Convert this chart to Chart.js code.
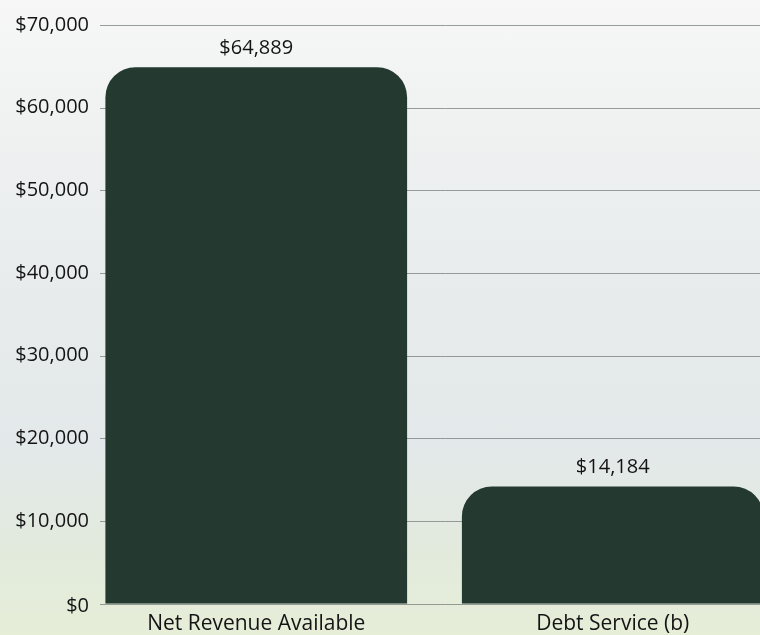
<!DOCTYPE html>
<html>
<head>
<meta charset="utf-8">
<script src="https://cdn.jsdelivr.net/npm/chart.js@4.4.0/dist/chart.umd.min.js"></script>
<style>
  html, body { margin: 0; padding: 0; }
  #wrap {
    width: 760px;
    height: 635px;
    overflow: hidden;
    position: relative;
    background: linear-gradient(to bottom, #f6f7f6 0%, #eff1f1 22%, #e7ebec 48%, #e3e9ea 70%, #e2eadd 87%, #e6eed8 100%);
  }
  #chartBox { width: 791px; height: 635px; }
</style>
</head>
<body>
<div id="wrap">
  <div id="chartBox"><canvas id="revenueChart" width="791" height="635"></canvas></div>
</div>
<script>
  const categories = ["Net Revenue Available", "Debt Service (b)"];
  const amounts = [64889, 14184];
  const yTicks = [0, 10000, 20000, 30000, 40000, 50000, 60000, 70000];

  const money = (v) => "$" + v.toLocaleString("en-US");
  const textColor = "#141414";

  // grid lines start to the right of the tick labels, like the print
  const gridPlugin = {
    id: "printGrid",
    beforeDatasetsDraw(chart) {
      const { ctx, chartArea: { right }, scales: { y } } = chart;
      ctx.save();
      ctx.strokeStyle = "rgba(120,125,125,0.75)";
      ctx.lineWidth = 1;
      yTicks.forEach((t) => {
        const py = Math.round(y.getPixelForValue(t)) + 0.5;
        ctx.beginPath();
        ctx.moveTo(100, py);
        ctx.lineTo(right, py);
        ctx.stroke();
      });
      ctx.restore();
    },
    afterDraw(chart) {
      // y tick labels, drawn by hand so they may sit over the plot edge
      const { ctx, scales: { y } } = chart;
      ctx.save();
      ctx.font = "20px 'Open Sans'";
      ctx.fillStyle = textColor;
      ctx.textAlign = "right";
      ctx.textBaseline = "middle";
      yTicks.forEach((t) => {
        const off = t === 0 ? 2 : 0;
        ctx.fillText(money(t), 89, y.getPixelForValue(t) + off);
      });
      ctx.restore();
    },
  };

  const valueLabelPlugin = {
    id: "valueLabels",
    afterDatasetsDraw(chart) {
      const { ctx } = chart;
      const meta = chart.getDatasetMeta(0);
      ctx.save();
      ctx.font = "20px 'Open Sans'";
      ctx.fillStyle = textColor;
      ctx.textAlign = "center";
      ctx.textBaseline = "bottom";
      meta.data.forEach((bar, i) => {
        ctx.fillText(money(amounts[i]), bar.x, bar.y - 9);
      });
      ctx.restore();
    },
  };

  const chartCtx = document.getElementById("revenueChart").getContext("2d");
  const revenueChart = new Chart(chartCtx, {
    type: "bar",
    data: {
      labels: categories,
      datasets: [
        {
          data: amounts,
          backgroundColor: "#24392f",
          borderRadius: { topLeft: 30, topRight: 30, bottomLeft: 0, bottomRight: 0 },
          borderSkipped: "bottom",
          barPercentage: 0.91,
          categoryPercentage: 0.93,
        },
      ],
    },
    options: {
      responsive: false,
      devicePixelRatio: 1,
      animation: false,
      layout: { padding: { top: 25, bottom: -2, left: 0, right: 0 } },
      scales: {
        x: {
          grid: { display: false },
          border: { display: false },
          ticks: {
            color: textColor,
            font: { family: "'Open Sans'", size: 21 },
            padding: 0,
          },
        },
        y: {
          min: 0,
          max: 70000,
          afterFit(scale) {
            scale.width = 78;
          },
          afterBuildTicks(scale) {
            scale.ticks = yTicks.map((v) => ({ value: v }));
          },
          grid: { display: false, drawTicks: false },
          border: { display: false },
          ticks: { display: false },
        },
      },
      plugins: {
        legend: { display: false },
        tooltip: { enabled: false },
      },
    },
    plugins: [gridPlugin, valueLabelPlugin],
  });
</script>
</body>
</html>
